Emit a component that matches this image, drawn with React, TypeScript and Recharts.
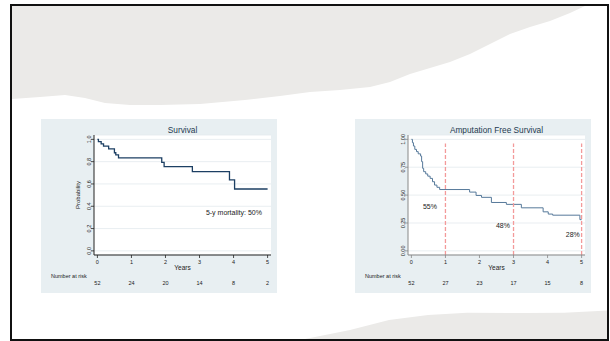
import React from 'react';
import { LineChart, Line, XAxis, YAxis, CartesianGrid, ReferenceLine, ReferenceDot, Label } from 'recharts';

// ---------- data ----------
const years = [0, 1, 2, 3, 4, 5];

const survTimes = [0, 0.03, 0.11, 0.18, 0.33, 0.5, 0.54, 0.62, 1.89, 1.96, 2.79, 3.88, 4.03, 5.0];
const survValues = [1.0, 0.98, 0.96, 0.94, 0.915, 0.88, 0.86, 0.833, 0.794, 0.756, 0.71, 0.636, 0.555, 0.555];
const survAtRisk = [52, 24, 20, 14, 8, 2];
const survYTicks = [0, 0.2, 0.4, 0.6, 0.8, 1.0];

const afsTimes = [0, 0.03, 0.06, 0.1, 0.15, 0.2, 0.27, 0.3, 0.33, 0.36, 0.42, 0.48, 0.55, 0.62, 0.68, 0.75, 0.83, 1.71, 1.9, 2.06, 2.35, 2.79, 3.23, 3.87, 4.02, 4.15, 4.95, 5.0];
const afsValues = [1.0, 0.97, 0.94, 0.91, 0.89, 0.87, 0.85, 0.8, 0.74, 0.71, 0.69, 0.67, 0.65, 0.62, 0.59, 0.57, 0.55, 0.527, 0.497, 0.48, 0.434, 0.417, 0.386, 0.35, 0.33, 0.32, 0.28, 0.28];
const afsAtRisk = [52, 27, 23, 17, 15, 8];
const afsYTicks = [0, 0.25, 0.5, 0.75, 1.0];

const afsMarkYears = [1, 3, 5];
const afsMarkLabels = ['55%', '48%', '28%'];
const afsMarkLabelAt = [
  { t: 0.546, s: 0.40 },
  { t: 2.69, s: 0.223 },
  { t: 4.74, s: 0.143 },
];
const survNote = '5-y mortality: 50%';
const survNoteAt = { t: 4.01, s: 0.34 };

const survData = survTimes.map((t, i) => ({ t, s: survValues[i] }));
const afsData = afsTimes.map((t, i) => ({ t, s: afsValues[i] }));

// ---------- styling ----------
const FONT = '"Liberation Sans", Arial, Helvetica, sans-serif';
const PANEL_BG = '#e8eff2';
const X_DOMAIN: [number, number] = [-0.1, 5.1];
const Y_DOMAIN: [number, number] = [-0.037, 1.039];
const DASH_COLOR = '#f39a9a';

const XTick = (props: any) => {
  const { x, y, payload } = props;
  return (
    <text x={x} y={y + 3.7} dy="0.36em" textAnchor="middle" fontSize={5.5} fill="#222" fontFamily={FONT}>
      {payload.value}
    </text>
  );
};

const makeRiskTick = (atRisk: number[]) => (props: any) => {
  const { x, y, payload } = props;
  const idx = years.indexOf(payload.value);
  return (
    <text x={x} y={y + 12.5} dy="0.36em" textAnchor="middle" fontSize={5.5} fill="#222" fontFamily={FONT}>
      {idx >= 0 ? atRisk[idx] : ''}
    </text>
  );
};

const makeYTick = (digits: number) => (props: any) => {
  const { x, y, payload } = props;
  const bx = x + 0.3;
  return (
    <text
      x={bx}
      y={y}
      textAnchor="middle"
      fontSize={5.5}
      fill="#222"
      fontFamily={FONT}
      transform={`rotate(-90 ${bx} ${y})`}
    >
      {Number(payload.value).toFixed(digits)}
    </text>
  );
};

const YearsLabel = (props: any) => {
  const vb = props.viewBox || {};
  return (
    <text x={vb.x + vb.width / 2} y={vb.y + 12.7} dy="0.36em" textAnchor="middle" fontSize={6.5} fill="#222" fontFamily={FONT}>
      Years
    </text>
  );
};

const RiskLabel = (props: any) => {
  const vb = props.viewBox || {};
  return (
    <text x={vb.x - 43} y={vb.y + 5} dy="0.36em" textAnchor="start" fontSize={5.5} fill="#222" fontFamily={FONT}>
      Number at risk
    </text>
  );
};

const ProbLabel = (props: any) => {
  const vb = props.viewBox || {};
  const cx = vb.x + 37;
  const cy = vb.y + vb.height / 2;
  return (
    <text x={cx} y={cy} dy="0.36em" textAnchor="middle" fontSize={6} fill="#222" fontFamily={FONT} transform={`rotate(-90 ${cx} ${cy})`}>
      Probability
    </text>
  );
};

const DashShape = (props: any) => (
  <line
    x1={props.x1}
    y1={props.y1}
    x2={props.x2}
    y2={props.y2}
    stroke={DASH_COLOR}
    strokeWidth={1.3}
    strokeDasharray="4 2"
    fill="none"
  />
);

type PanelProps = {
  left: number;
  title: string;
  data: { t: number; s: number }[];
  color: string;
  strokeWidth: number;
  axisColor: string;
  yTicks: number[];
  yDigits: number;
  atRisk: number[];
  showYLabel: boolean;
  children?: React.ReactNode;
};

function KMPanel(p: PanelProps) {
  return (
    <div style={{ position: 'absolute', left: p.left, top: 119, width: 236, height: 174, background: PANEL_BG }}>
      <div
        style={{
          position: 'absolute',
          left: 53,
          top: 6,
          width: 177,
          textAlign: 'center',
          fontSize: 8.3,
          lineHeight: '10px',
          color: '#243a50',
          fontFamily: FONT,
          whiteSpace: 'nowrap',
        }}
      >
        {p.title}
      </div>
      <div style={{ position: 'absolute', left: 0, top: 0 }}>
        <LineChart width={236} height={174} data={p.data} margin={{ top: 16, right: 6, left: 0, bottom: 0 }}>
          <CartesianGrid horizontal vertical={false} fill="#ffffff" stroke="#e3eaee" strokeWidth={0.8} />
          <XAxis
            dataKey="t"
            type="number"
            domain={X_DOMAIN}
            ticks={years}
            allowDataOverflow
            interval={0}
            height={16}
            tickSize={3}
            tickMargin={0}
            axisLine={{ stroke: p.axisColor, strokeWidth: 1 }}
            tickLine={{ stroke: p.axisColor, strokeWidth: 0.8 }}
            tick={XTick}
          >
            <Label content={YearsLabel} />
          </XAxis>
          <XAxis
            xAxisId="risk"
            dataKey="t"
            type="number"
            domain={X_DOMAIN}
            ticks={years}
            allowDataOverflow
            interval={0}
            height={22}
            tickSize={0}
            tickMargin={0}
            axisLine={false}
            tickLine={false}
            tick={makeRiskTick(p.atRisk)}
          >
            <Label content={RiskLabel} />
          </XAxis>
          <YAxis
            type="number"
            domain={Y_DOMAIN}
            ticks={p.yTicks}
            allowDataOverflow
            interval={0}
            width={53}
            tickSize={3}
            tickMargin={0}
            axisLine={{ stroke: p.axisColor, strokeWidth: 1 }}
            tickLine={{ stroke: p.axisColor, strokeWidth: 0.8 }}
            tick={makeYTick(p.yDigits)}
          >
            {p.showYLabel ? <Label content={ProbLabel} /> : null}
          </YAxis>
          <Line
            dataKey="s"
            type="stepAfter"
            stroke={p.color}
            strokeWidth={p.strokeWidth}
            dot={false}
            activeDot={false}
            isAnimationActive={false}
          />
          {p.children}
        </LineChart>
      </div>
    </div>
  );
}

const topPath =
  'M12,6 L585,6 L570,13 L550,21 L530,27 L510,34 L490,44 L470,54 L450,62 L430,68 L410,74 L390,82 L370,87 L340,90 L310,92 L280,96 L245,100 L200,104 L160,105 L130,105 L105,103 L85,98 L65,95 L40,97 L12,99 Z';
const bottomPath =
  'M300,340 L350,330 L389,320 L428,315 L467,312.7 L525,313 L564,312.7 L608,310.5 L608,340 Z';

export default function App() {
  return (
    <div style={{ position: 'absolute', left: 0, top: 0, width: 610, height: 341, background: '#fff', overflow: 'hidden' }}>
      <svg width={610} height={341} style={{ position: 'absolute', left: 0, top: 0 }}>
        <rect x={0} y={0} width={610} height={341} fill="#ffffff" />
        <path d={topPath} fill="#ebeae8" />
        <path d={bottomPath} fill="#ebeae8" />
        <rect x={11} y={5} width={597} height={335} fill="none" stroke="#111" strokeWidth={2} />
      </svg>

      <KMPanel
        left={41}
        title="Survival"
        data={survData}
        color="#1c3f63"
        strokeWidth={1.3}
        axisColor="#222"
        yTicks={survYTicks}
        yDigits={1}
        atRisk={survAtRisk}
        showYLabel
      >
        <ReferenceDot
          x={survNoteAt.t}
          y={survNoteAt.s}
          r={0}
          fill="none"
          stroke="none"
          label={{ value: survNote, position: 'center', fontSize: 7, fill: '#222', fontFamily: FONT }}
        />
      </KMPanel>

      <KMPanel
        left={355}
        title="Amputation Free Survival"
        data={afsData}
        color="#56799a"
        strokeWidth={1}
        axisColor="#888"
        yTicks={afsYTicks}
        yDigits={2}
        atRisk={afsAtRisk}
        showYLabel={false}
      >
        {afsMarkYears.map((yr) => (
          <ReferenceLine
            key={'l' + yr}
            segment={[
              { x: yr, y: -0.037 },
              { x: yr, y: 0.962 },
            ]}
            stroke={DASH_COLOR}
            shape={DashShape}
          />
        ))}
        {afsMarkLabels.map((lab, i) => (
          <ReferenceDot
            key={'d' + i}
            x={afsMarkLabelAt[i].t}
            y={afsMarkLabelAt[i].s}
            r={0}
            fill="none"
            stroke="none"
            label={{ value: lab, position: 'center', fontSize: 7, fill: '#222', fontFamily: FONT }}
          />
        ))}
      </KMPanel>
    </div>
  );
}
